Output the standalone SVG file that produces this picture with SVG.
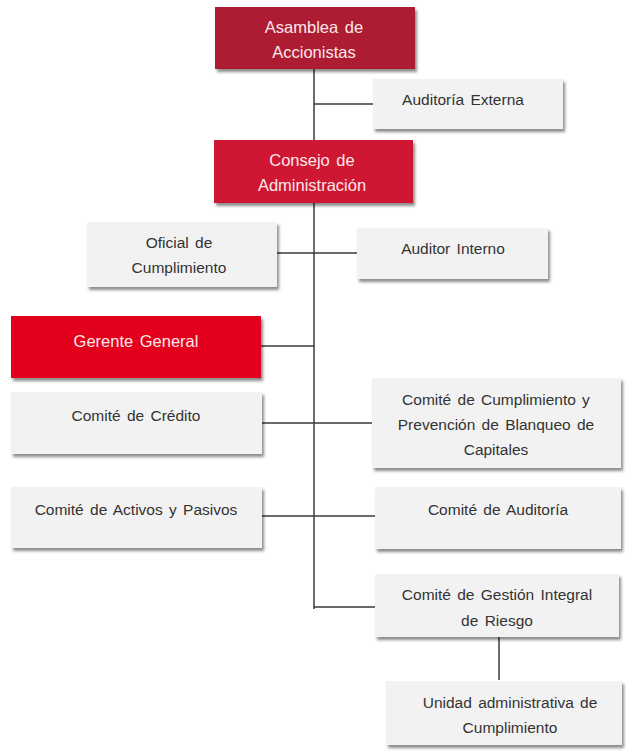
<svg xmlns="http://www.w3.org/2000/svg" width="626" height="751" viewBox="0 0 626 751">
<defs>
<filter id="sh" x="-10%" y="-20%" width="125%" height="150%">
<feDropShadow dx="2" dy="3" stdDeviation="1.5" flood-color="#000" flood-opacity="0.45"/>
</filter>
<style>
.box{fill:#f2f2f2;filter:url(#sh)}
.red1{fill:#ad1a30;filter:url(#sh)}
.red2{fill:#cf1230;filter:url(#sh)}
.red3{fill:#e2061e;filter:url(#sh)}
text{font-family:"Liberation Sans",Arial,sans-serif;font-size:15.5px;text-anchor:middle;word-spacing:2px}
.dk{fill:#333}
.wt{fill:#fde8ea;font-size:16.5px}
.ln{stroke:#3a3a3a;stroke-width:1.5;fill:none}
</style>
</defs>
<g id="connectors">
<line class="ln" x1="314" y1="69" x2="314" y2="609"/>
<line class="ln" x1="314" y1="104" x2="373" y2="104"/>
<line class="ln" x1="277" y1="253" x2="357" y2="253"/>
<line class="ln" x1="261" y1="346" x2="314" y2="346"/>
<line class="ln" x1="261" y1="423" x2="372" y2="423"/>
<line class="ln" x1="261" y1="516" x2="375" y2="516"/>
<line class="ln" x1="314" y1="607" x2="375" y2="607"/>
<line class="ln" x1="499" y1="637" x2="499" y2="680"/>
</g>
<g id="asamblea">
<rect class="red1" x="215" y="7" width="200" height="62"/>
<text class="wt" x="314" y="33">Asamblea de</text>
<text class="wt" x="314" y="58">Accionistas</text>
</g>
<g id="auditoria-externa">
<rect class="box" x="373" y="79" width="190" height="50"/>
<text class="dk" x="463" y="105">Auditoría Externa</text>
</g>
<g id="consejo">
<rect class="red2" x="214" y="140" width="199" height="63"/>
<text class="wt" x="312" y="166">Consejo de</text>
<text class="wt" x="312" y="191">Administración</text>
</g>
<g id="oficial">
<rect class="box" x="87" y="222" width="190" height="65"/>
<text class="dk" x="179" y="248">Oficial de</text>
<text class="dk" x="179" y="273">Cumplimiento</text>
</g>
<g id="auditor-interno">
<rect class="box" x="357" y="228" width="191" height="51"/>
<text class="dk" x="453" y="254">Auditor Interno</text>
</g>
<g id="gerente">
<rect class="red3" x="11" y="316" width="250" height="62"/>
<text class="wt" x="136" y="347">Gerente General</text>
</g>
<g id="comite-credito">
<rect class="box" x="11" y="392" width="251" height="62"/>
<text class="dk" x="136" y="421">Comité de Crédito</text>
</g>
<g id="comite-cumplimiento">
<rect class="box" x="372" y="378" width="249" height="90"/>
<text class="dk" x="496" y="405">Comité de Cumplimiento y</text>
<text class="dk" x="496" y="430">Prevención de Blanqueo de</text>
<text class="dk" x="496" y="455">Capitales</text>
</g>
<g id="comite-activos">
<rect class="box" x="11" y="487" width="251" height="61"/>
<text class="dk" x="136" y="515">Comité de Activos y Pasivos</text>
</g>
<g id="comite-auditoria">
<rect class="box" x="375" y="487" width="246" height="62"/>
<text class="dk" x="498" y="515">Comité de Auditoría</text>
</g>
<g id="comite-riesgo">
<rect class="box" x="375" y="574" width="244" height="63"/>
<text class="dk" x="497" y="600">Comité de Gestión Integral</text>
<text class="dk" x="497" y="626">de Riesgo</text>
</g>
<g id="unidad">
<rect class="box" x="386" y="681" width="236" height="64"/>
<text class="dk" x="510" y="708">Unidad administrativa de</text>
<text class="dk" x="510" y="733">Cumplimiento</text>
</g>
</svg>
